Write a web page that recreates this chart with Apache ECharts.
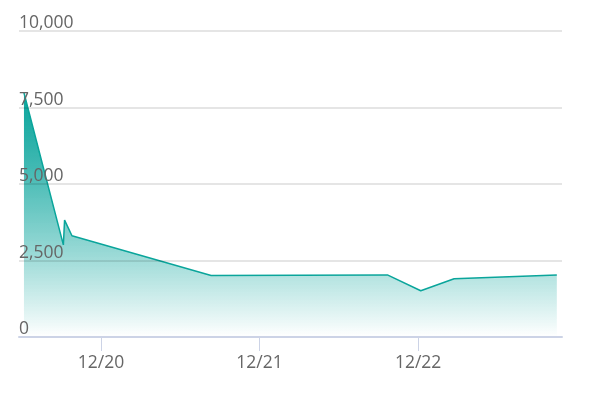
<!DOCTYPE html>
<html>
<head>
<meta charset="utf-8">
<script src="https://cdn.jsdelivr.net/npm/echarts@6/dist/echarts.min.js"></script>
<style>html,body{margin:0;padding:0;background:#fff}#c{width:591px;height:398px}</style>
</head>
<body>
<div id="c"></div>
<script>
const times = ['2023-12-19 12:20','2023-12-19 18:18','2023-12-19 18:29','2023-12-19 19:36','2023-12-20 16:40','2023-12-21 19:21','2023-12-22 00:24','2023-12-22 05:27','2023-12-22 21:00'];
const values = [7980, 3010, 3820, 3310, 2010, 2030, 1510, 1905, 2025];
const yTicks = [0, 2500, 5000, 7500, 10000];
const xMin = '2023-12-19 11:35';
const xMax = '2023-12-22 21:47';

const chart = echarts.init(document.getElementById('c'), null, {renderer:'canvas'});
const font = 'Open Sans';
const stops = [];
for (let i = 0; i <= 10; i++) {
  const x = i / 10;
  stops.push({offset:x, color:'rgba(14,166,158,' + (1 - Math.pow(x, 1.3)).toFixed(3) + ')'});
}
chart.setOption({
  animation:false,
  grid:{left:19, right:29, top:31, bottom:61, containLabel:false},
  xAxis:{
    type:'time', z:4,
    min:new Date(xMin.replace(' ','T')).getTime(),
    max:new Date(xMax.replace(' ','T')).getTime(),
    minInterval:86400000, maxInterval:86400000,
    axisLine:{lineStyle:{color:'#ccd3e6', width:2}},
    axisTick:{show:true, length:14, lineStyle:{color:'#ccd3e6', width:1}},
    axisLabel:{color:'#666', fontSize:17.5, fontFamily:font, margin:17,
      showMinLabel:false, showMaxLabel:false,
      formatter:function(v){const d=new Date(v);return String(d.getMonth()+1).padStart(2,'0')+'/'+String(d.getDate()).padStart(2,'0');}},
    splitLine:{show:false}
  },
  yAxis:{
    type:'value', z:3,
    min:yTicks[0], max:yTicks[yTicks.length-1], interval:2500,
    axisLine:{show:false}, axisTick:{show:false},
    axisLabel:{inside:true, margin:0, verticalAlign:'bottom', color:'#666', fontSize:17.5, fontFamily:font,
      lineHeight:15,
      formatter:function(v){return v.toLocaleString('en-US');}},
    splitLine:{lineStyle:{color:'rgba(0,0,0,0.1)', width:2}}
  },
  series:[{
    type:'line', z:2, showSymbol:false, symbol:'none',
    data: times.map((t,i)=>[new Date(t.replace(' ','T')).getTime(), values[i]]),
    lineStyle:{color:'#0aa59b', width:1.5},
    itemStyle:{color:'#0aa59b'},
    areaStyle:{opacity:1, color:new echarts.graphic.LinearGradient(0,0,0,1,stops)}
  }]
});
</script>
</body>
</html>
